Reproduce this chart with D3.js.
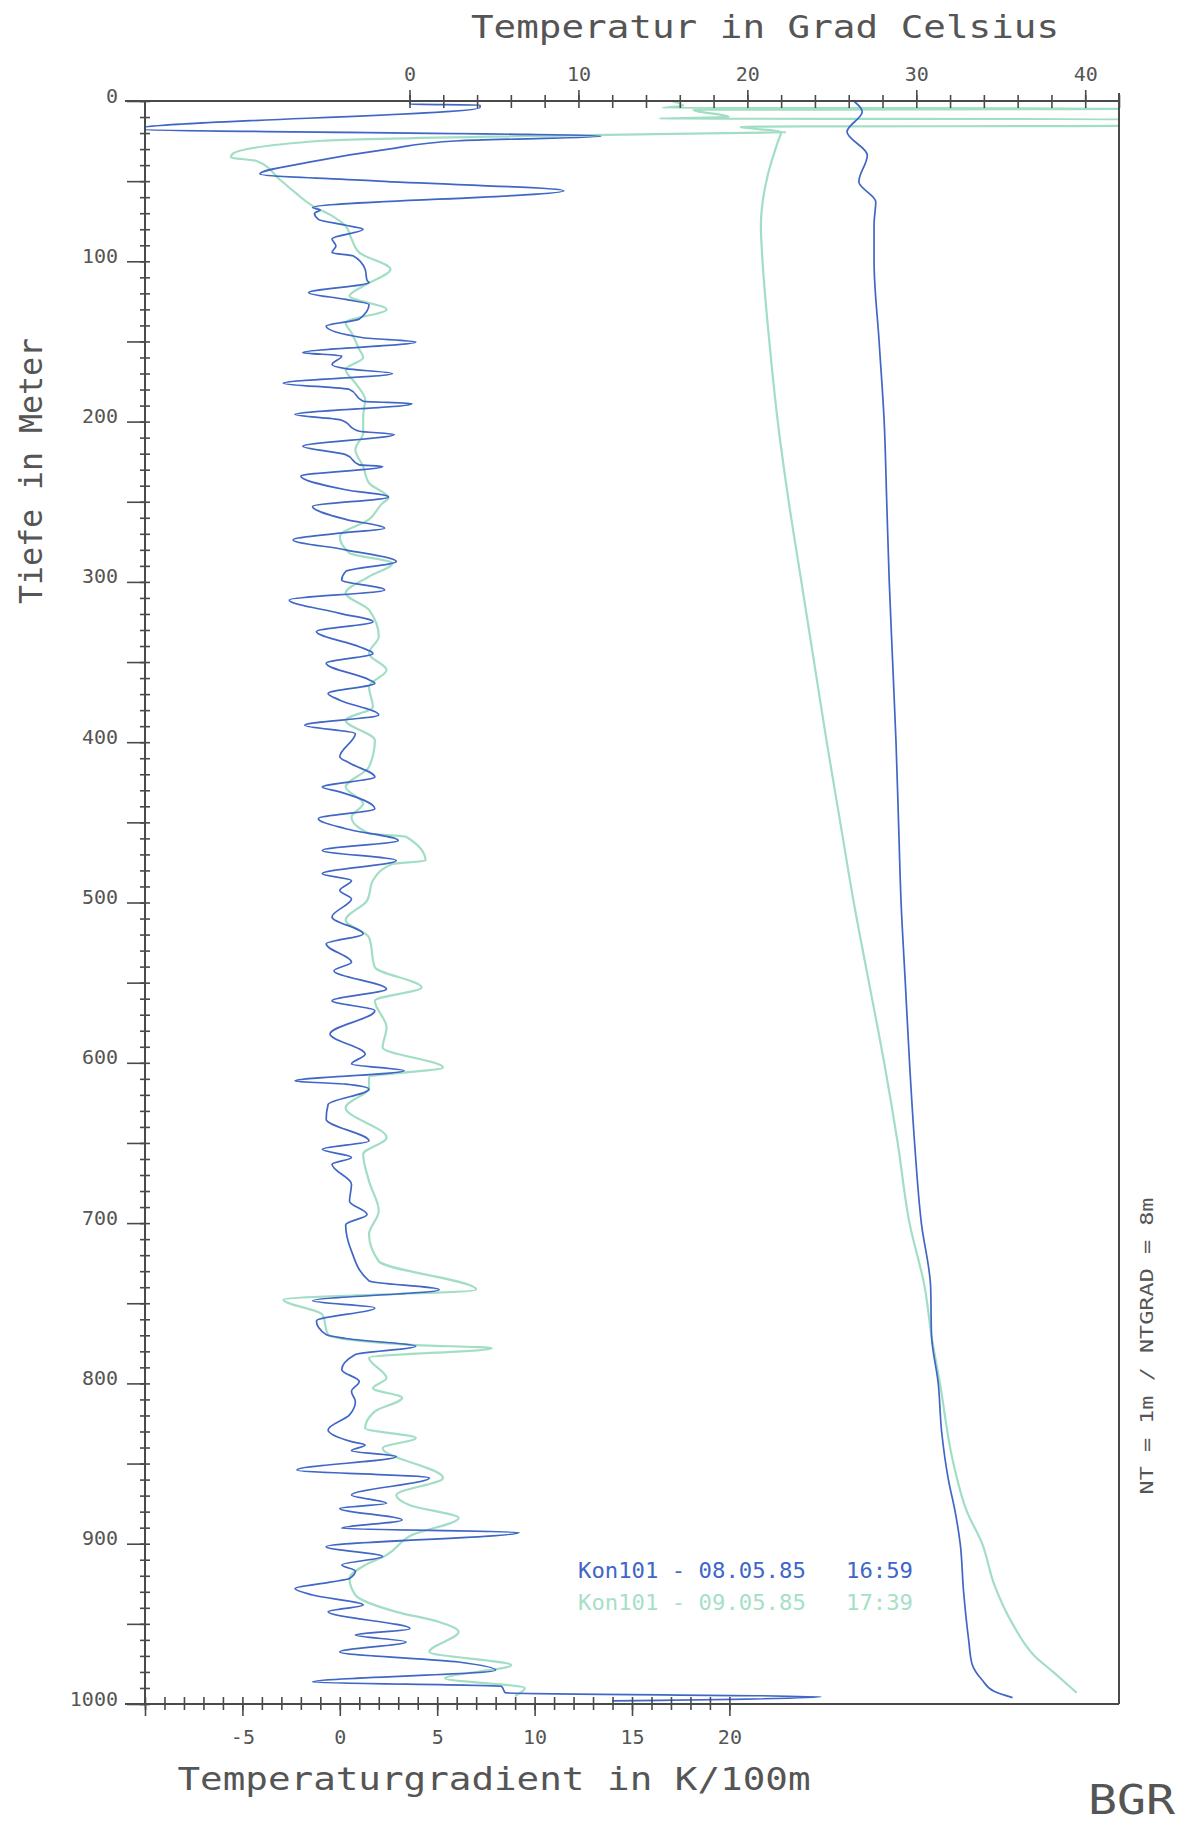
<!DOCTYPE html>
<html lang="de">
<head>
<meta charset="UTF-8">
<title>Temperatur und Temperaturgradient</title>
<script src="https://d3js.org/d3.v7.min.js"></script>
<style>
  body { margin: 0; background: #fff; }
  text { font-family: "DejaVu Sans Mono", "Liberation Mono", monospace; fill: #555; }
</style>
</head>
<body>
<svg id="chart" width="1196" height="1825"></svg>
<script>
// Temperaturgradient (K/100m) : [Tiefe, Wert]
const gradBlue = [
  [0,3.6],[2,3.6],[2.5,7.2],[4,7.2],[17.5,-10.5],[22,13.4],[24.8,6.1],[30,2.5],[38,-1.5],[45.6,-4.1],
  [50,2],[56,11.5],[66.5,-1.4],[68,-1.0],[70,-1.3],[73.8,-1.1],[77.5,0.3],[80,1.2],[86,-0.4],[90.4,-0.2],
  [94.6,-0.4],[96.7,0.7],[105,1.3],[112,1.4],[113.3,1.5],[119.6,-1.6],[123.8,0.3],[127,1.5],[136,1.0],[140.4,-0.7],
  [147.7,1.2],[150.4,3.9],[157,-1.9],[159,0.1],[164.4,-0.4],[167,0.3],[170,2.7],[176,-2.9],[180,0.5],[187.3,1.2],
  [188.8,3.7],[195.6,-2.3],[198.8,0],[206,1.0],[208,2.8],[215.4,-1.9],[220.6,0.3],[227,1.0],[228,2.2],[234,-2.0],
  [242.5,0.3],[247,2.5],[252.9,-1.4],[261,0.3],[266.5,2.3],[269.6,0],[273.8,-2.4],[280,0.3],[287.3,2.9],[293.5,0.3],
  [298.8,0.1],[305,2.3],[311.3,-2.6],[319.6,0],[324.8,1.7],[331,-1.2],[340.4,1.0],[344.6,1.7],[350.8,-0.7],[361,1.5],
  [363.3,1.8],[369.6,-0.6],[373.8,0],[383,2.0],[389.4,-1.8],[394.6,0.8],[409,0],[413,0.5],[421.7,1.8],[428,-0.9],
  [431,0],[441.5,1.8],[447.7,-1.1],[454,0.3],[461.3,3.0],[467.5,-0.9],[473.8,2.9],[482,-0.9],[486.3,0.6],[492.5,0],
  [497.7,0.6],[509,-0.4],[519.6,1.2],[525.8,-0.7],[537.3,0.6],[542.5,-0.3],[554,2.4],[561.3,-0.4],[567.5,1.8],[582,-0.5],
  [594.6,1.3],[600.8,0.6],[605,3.3],[611.3,-2.3],[613.3,0.3],[616.5,1.5],[626,-0.6],[635.2,-0.7],[648.8,1.5],[654,-0.9],
  [659,0.6],[663.3,-0.4],[675.8,0.6],[686.3,0.5],[694.6,1.4],[701,0.3],[717.5,0.6],[736,1.5],[741.5,5.1],[748.5,-1.4],
  [752.9,1.8],[761,-1.2],[769.6,-0.7],[772,0.3],[776.9,3.9],[782,0.8],[791.5,0.1],[798.8,1.0],[805,0.6],[811.3,0.8],
  [819.6,0.5],[829,-0.6],[836.3,0.6],[838.5,1.3],[842,0.6],[845.6,2.9],[854,-2.2],[859,4.6],[869.6,0.6],[874.8,2.4],
  [878,0],[885.2,3.2],[890.4,0.1],[893,9.2],[901.9,-0.7],[908,2.2],[913.3,0.1],[917,0.8],[921.7,0.5],[924,-0.5],
  [928,-2.3],[932,-1.4],[938.3,1.2],[942.5,-0.6],[953,3.6],[957,0.8],[961.3,3.4],[967.5,0],[973.8,6.1],[979,8.0],
  [986.3,-1.4],[989,8.3],[993,8.5],[995.5,24.7],[998,14]
];
const gradGreen = [
  [19.5,22.9],[24.8,-0.9],[33,-5.5],[35.2,-5.6],[37.3,-4.3],[48.8,-3.1],[57,-2.3],[65.4,-1.4],[71.7,-0.4],[78,0.3],
  [86,0.6],[94.6,1.0],[105,2.6],[115.4,1.2],[121.7,0.5],[130,2.4],[138.3,0.3],[144.6,0.6],[155,1.0],[160,1.2],
  [167.5,0.3],[176,0.8],[186.3,1.3],[196.7,1.2],[207,1.2],[217.5,0.8],[228,1.2],[238.3,1.5],[247.7,2.5],[250.8,2.2],
  [261,1.5],[271.6,0],[282,0.5],[288.3,2.7],[296.7,1.5],[307,0.3],[317.5,1.5],[334,2.0],[344.6,1.5],[355,2.4],
  [365.4,1.5],[378,1.7],[386.3,0.3],[398.8,1.8],[415.4,1.5],[428,0.3],[438.3,1.2],[446.7,0.6],[457,1.5],[459,3.4],
  [473.8,4.4],[476,2.7],[486.3,1.7],[498.8,1.4],[511,0.3],[521.7,1.5],[540.4,1.8],[553,4.2],[561.3,1.8],[578,2.4],
  [590.4,2.2],[603,5.3],[609,1.5],[615.4,1.5],[628,0.3],[646.7,2.4],[657,1.2],[673.8,1.5],[692.5,2.0],[707,1.5],
  [723.8,2.0],[741.5,7.0],[747.7,-2.9],[757,-0.9],[769.6,-0.6],[776,3.7],[778,7.8],[784,1.5],[796.7,2.4],[803,1.7],
  [809,3.2],[817.5,1.8],[828,1.3],[834,3.9],[840.4,2.2],[859,5.3],[869.6,2.9],[876,3.6],[884,6.1],[894.6,3.7],
  [907,2.4],[913.3,1.3],[921.7,0.5],[932,0.8],[942.5,2.9],[948.8,5.1],[955,6.1],[967.5,4.6],[975.8,8.8],[984,5.4],
  [990,9.5],[995,9.0]
];
// Temperatur (Grad Celsius) : [Tiefe, Wert]
const tempBlue = [
  [0,26.3],[6.7,26.8],[19.2,25.9],[33.8,27.1],[50.4,26.6],[62.9,27.6],[77,27.5],[100,27.5],[150,27.8],[200,28.1],
  [250,28.25],[300,28.4],[350,28.6],[400,28.8],[450,28.95],[500,29.1],[550,29.35],[600,29.6],[650,29.9],[700,30.3],
  [740,30.85],[770,30.9],[800,31.3],[830,31.5],[860,31.9],[880,32.3],[900,32.6],[930,32.8],[960,33.1],[975,33.3],
  [985,33.9],[992,34.6],[996,35.7]
];
const tempGreen = [
  [0,15.5],[3,16.2],[4.4,15.0],[4.6,43],[4.9,43],[5.5,16.8],[10,18.9],[11,14.8],[11.3,43],[15.5,43],
  [16,19.6],[19.4,22.0],[25.6,21.8],[46.5,21.2],[77.7,20.8],[100,20.9],[150,21.3],[200,21.8],[250,22.45],[300,23.2],
  [350,23.95],[400,24.7],[450,25.5],[500,26.3],[550,27.2],[600,28.1],[650,28.9],[700,29.6],[740,30.5],[770,30.9],
  [800,31.4],[850,32.2],[880,33.0],[900,33.9],[925,34.6],[950,35.7],[970,37.0],[980,38.1],[993,39.5]
];

const depthLabels = d3.range(0, 1001, 100);
const tempLabels = [0, 10, 20, 30, 40];
const gradLabels = [-5, 0, 5, 10, 15, 20];
const legend = [
  { text: "Kon101 - 08.05.85   16:59", color: "#4066c6" },
  { text: "Kon101 - 09.05.85   17:39", color: "#a6e0c6" }
];

const svg = d3.select("#chart");
const axisColor = "#4a4a4a";
const blue = "#4066c6", green = "#a2dec4";

const y = d3.scaleLinear().domain([0, 1000]).range([101, 1704]);
const xG = d3.scaleLinear().domain([-10, 40]).range([145, 1119]);
const xT = d3.scaleLinear().domain([0, 42]).range([409.5, 1119]);

const plotLeft = xG.range()[0], plotRight = xG.range()[1];
const plotTop = y.range()[0], plotBottom = y.range()[1];

svg.append("rect").attr("width", 1196).attr("height", 1825).attr("fill", "#fff");

svg.append("clipPath").attr("id", "plot")
  .append("rect").attr("x", plotLeft).attr("y", plotTop - 2)
  .attr("width", plotRight - plotLeft).attr("height", plotBottom - plotTop + 2);

// Kurven
const lineG = d3.line().x(d => xG(d[1])).y(d => y(d[0])).curve(d3.curveMonotoneY);
const lineT = d3.line().x(d => xT(d[1])).y(d => y(d[0])).curve(d3.curveMonotoneY);

const curves = svg.append("g").attr("clip-path", "url(#plot)").attr("fill", "none");
curves.append("path").attr("d", lineG(gradGreen)).attr("stroke", green).attr("stroke-width", 2.2);
curves.append("path").attr("d", lineT(tempGreen)).attr("stroke", green).attr("stroke-width", 2.2);
curves.append("path").attr("d", lineG(gradBlue)).attr("stroke", blue).attr("stroke-width", 1.7);
curves.append("path").attr("d", lineT(tempBlue)).attr("stroke", blue).attr("stroke-width", 1.7);

function styleAxis(g) {
  g.select(".domain").remove();
  g.selectAll("line").attr("stroke", axisColor).attr("stroke-width", 1.6);
  g.selectAll("text").attr("font-size", 20).attr("fill", "#555")
    .attr("font-family", "DejaVu Sans Mono");
}

// Rahmen
svg.append("line").attr("x1", plotLeft - 20).attr("x2", plotRight).attr("y1", plotTop).attr("y2", plotTop)
  .attr("stroke", axisColor).attr("stroke-width", 2);
svg.append("line").attr("x1", plotLeft - 20).attr("x2", plotRight).attr("y1", plotBottom).attr("y2", plotBottom)
  .attr("stroke", axisColor).attr("stroke-width", 2);
svg.append("line").attr("x1", plotLeft).attr("x2", plotLeft).attr("y1", plotTop).attr("y2", plotBottom)
  .attr("stroke", axisColor).attr("stroke-width", 2);
svg.append("line").attr("x1", plotRight).attr("x2", plotRight).attr("y1", plotTop - 8).attr("y2", plotBottom)
  .attr("stroke", axisColor).attr("stroke-width", 2);

// Tiefe (links)
svg.append("g").attr("transform", `translate(${plotLeft},0)`)
  .call(d3.axisLeft(y).tickValues(d3.range(0, 1001, 10)).tickSize(5).tickFormat(""))
  .call(styleAxis)
  .call(g => g.selectAll("line").attr("x2", -5).attr("x1", 5));
svg.append("g").attr("transform", `translate(${plotLeft},0)`)
  .call(d3.axisLeft(y).tickValues(d3.range(0, 1001, 50)).tickSize(18).tickPadding(9)
    .tickFormat(d => depthLabels.includes(d) ? d : ""))
  .call(styleAxis)
  .call(g => g.selectAll("text").attr("dy", "0.05em"));

// Temperatur (oben)
svg.append("g").attr("transform", `translate(0,${plotTop})`)
  .call(d3.axisTop(xT).tickValues(d3.range(0, 43, 2)).tickSize(6).tickFormat(""))
  .call(styleAxis)
  .call(g => g.selectAll("line").attr("y2", -6).attr("y1", 7));
svg.append("g").attr("transform", `translate(0,${plotTop})`)
  .call(d3.axisTop(xT).tickValues(tempLabels).tickSize(11).tickPadding(9))
  .call(styleAxis);

// Gradient (unten)
svg.append("g").attr("transform", `translate(0,${plotBottom})`)
  .call(d3.axisBottom(xG).tickValues(d3.range(-10, 21, 1)).tickSize(6).tickFormat(""))
  .call(styleAxis)
  .call(g => g.selectAll("line").attr("y2", 6).attr("y1", -7));
svg.append("g").attr("transform", `translate(0,${plotBottom})`)
  .call(d3.axisBottom(xG).tickValues(d3.range(-10, 21, 5)).tickSize(12).tickPadding(14)
    .tickFormat(d => gradLabels.includes(d) ? d : ""))
  .call(styleAxis);

// Titel
svg.append("text").attr("x", 765).attr("y", 38).attr("text-anchor", "middle")
  .attr("font-size", 32).attr("textLength", 588).attr("lengthAdjust", "spacingAndGlyphs")
  .text("Temperatur in Grad Celsius");
svg.append("text").attr("x", 494).attr("y", 1790).attr("text-anchor", "middle")
  .attr("font-size", 32).attr("textLength", 633).attr("lengthAdjust", "spacingAndGlyphs")
  .text("Temperaturgradient in K/100m");
svg.append("text").attr("transform", "translate(42,471) rotate(-90)").attr("text-anchor", "middle")
  .attr("font-size", 32).attr("textLength", 266).attr("lengthAdjust", "spacingAndGlyphs")
  .text("Tiefe in Meter");
svg.append("text").attr("transform", "translate(1153,1346) rotate(-90)").attr("text-anchor", "middle")
  .attr("font-size", 17).attr("font-family", "DejaVu Sans").attr("fill", "#666")
  .attr("textLength", 297).attr("lengthAdjust", "spacingAndGlyphs")
  .text("NT = 1m / NTGRAD = 8m");

// Legende
svg.append("g").selectAll("text").data(legend).join("text")
  .attr("x", 578).attr("y", (d, i) => 1578 + i * 32)
  .attr("xml:space", "preserve").style("white-space", "pre")
  .attr("font-size", 21).attr("textLength", 335).attr("lengthAdjust", "spacingAndGlyphs")
  .style("fill", d => d.color)
  .text(d => d.text);

svg.append("text").attr("x", 1088).attr("y", 1814)
  .attr("font-family", "DejaVu Sans").attr("font-weight", 200).attr("font-size", 40)
  .attr("textLength", 87).attr("lengthAdjust", "spacingAndGlyphs")
  .attr("fill", "#888").text("BGR");
</script>
</body>
</html>
